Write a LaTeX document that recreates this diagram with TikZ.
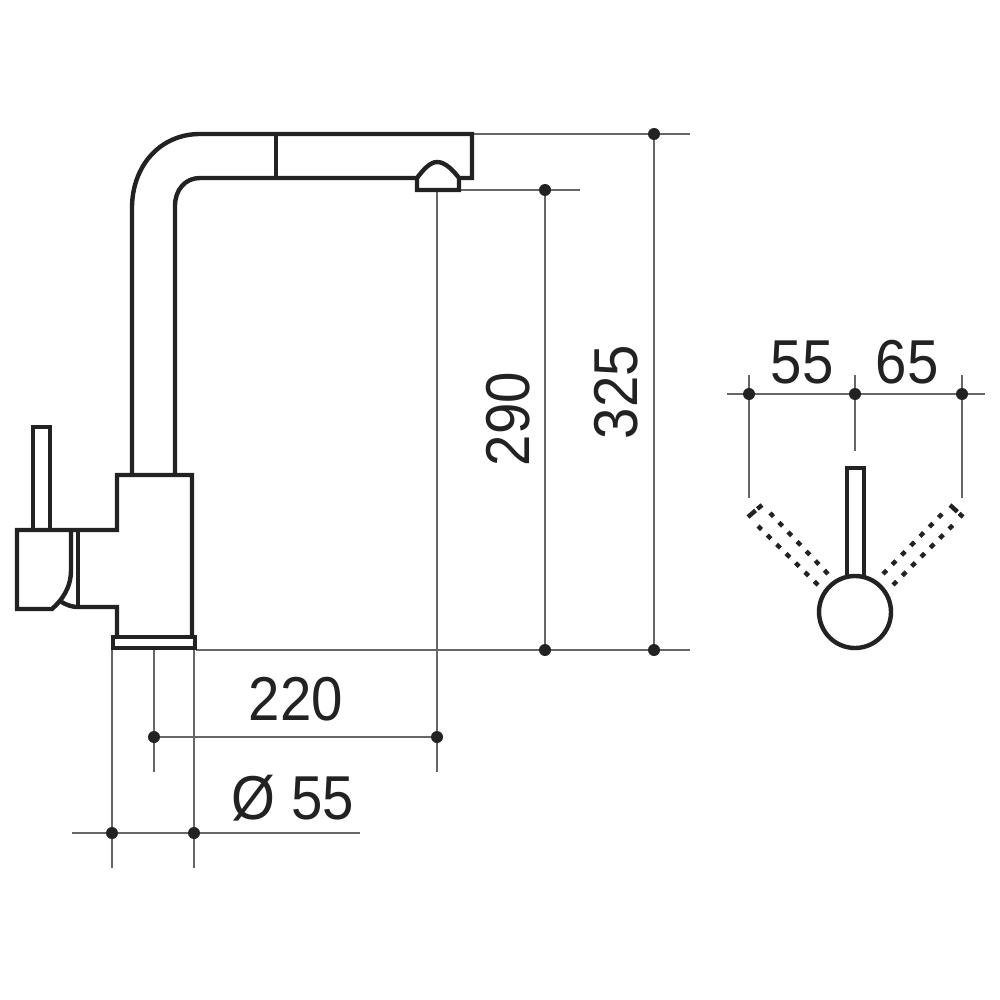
\documentclass[tikz,border=0pt]{standalone}
\usepackage{fontspec}
\setmainfont[FakeStretch=0.91]{Liberation Sans}
\definecolor{ink}{HTML}{222222}
\definecolor{dim}{HTML}{666666}
\tikzset{
  obj/.style={draw=ink,line width=2.2pt,line join=miter},
  dimline/.style={draw=dim,line width=0.85pt},
  dotted lever/.style={draw=ink,line width=2.2pt,dash pattern=on 2.6pt off 4pt},
  dimdot/.style={fill=ink,draw=none},
  lab/.style={text=ink,font=\fontsize{31}{31}\selectfont,inner sep=0pt},
}
\newcommand{\dimdot}[2]{\fill[dimdot] (#1,#2) circle (6);}
\begin{document}
\begin{tikzpicture}[x=0.5pt,y=-0.5pt]
\useasboundingbox[fill=white] (0,0) rectangle (1000,1000);
% dimension lines
\draw[dimline] (472,134) -- (690,134);
\draw[dimline] (459,190) -- (580,190);
\draw[dimline] (196,650) -- (690,650);
\draw[dimline] (654,134) -- (654,650);
\draw[dimline] (545,190) -- (545,650);
\draw[dimline] (437,190) -- (437,772);
\draw[dimline] (154,648) -- (154,772);
\draw[dimline] (154,737) -- (437,737);
\draw[dimline] (112,648) -- (112,868);
\draw[dimline] (194,648) -- (194,868);
\draw[dimline] (72,833) -- (360,833);
\draw[dimline] (727,394) -- (985,394);
\draw[dimline] (749,375) -- (749,498);
\draw[dimline] (855,375) -- (855,451);
\draw[dimline] (962,375) -- (962,498);
\dimdot{654}{134}\dimdot{545}{190}\dimdot{654}{650}\dimdot{545}{650}
\dimdot{154}{737}\dimdot{437}{737}\dimdot{112}{833}\dimdot{194}{833}
\dimdot{749}{394}\dimdot{855}{394}\dimdot{962}{394}
% spout
\draw[obj] (132,473) -- (132,208) .. controls (132,166) and (160,134) .. (200,134)
  -- (472,134) -- (472,178) -- (460,178);
\draw[obj] (175,473) -- (175,206) .. controls (175,190) and (185,178) .. (200,178) -- (417,178);
\draw[obj] (276,134) -- (276,178);
\draw[obj] (417,190) -- (417,178) .. controls (423,170) and (430,162) .. (437,162)
  .. controls (445,162) and (453,170) .. (459,178) -- (459,190) -- cycle;
% body
\draw[obj] (117,637) -- (117,607) -- (78,607) .. controls (72,607) and (66,605) .. (60,601);
\draw[obj] (78,607) -- (78,530);
\draw[obj] (192,637) -- (192,475) -- (117,475) -- (117,530) -- (17,530) -- (17,609) -- (52,609)
  .. controls (62,600) and (71,588) .. (71,570) -- (71,530);
\draw[obj] (113,637) rectangle (195,648);
\draw[obj] (33,530) -- (33,427) -- (50,427) -- (50,530);
% top view
\draw[obj] (847,578) -- (847,468) -- (864,468) -- (864,578);
\draw[obj] (855,612) circle (36);
\draw[dotted lever] (828,574) -- (770,513);
\draw[dotted lever] (818,585) -- (758,526);
\draw[dotted lever] (883,574) -- (942,514);
\draw[dotted lever] (893,585) -- (953,525);
\draw[dotted lever,dash pattern=on 5pt off 1.2pt] (748,517) -- (762,505);
\draw[dotted lever,dash pattern=on 5pt off 1.2pt] (950,505) -- (963,517);
% labels
\node[lab] (t220) at (296,699) {220};
\node[lab] (tdia) at (293,798) {Ø 55};
\node[lab,rotate=90] (t290) at (508,419) {290};
\node[lab,rotate=90] (t325) at (616,392) {325};
\node[lab] (t55) at (802,362) {55};
\node[lab] (t65) at (907,362) {65};
\end{tikzpicture}
\end{document}
